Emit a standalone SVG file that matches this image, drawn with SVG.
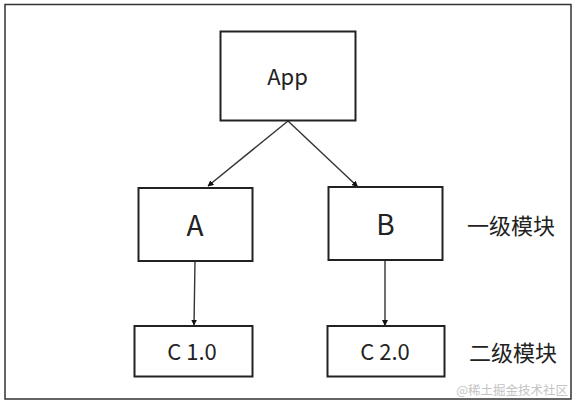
<svg xmlns="http://www.w3.org/2000/svg" width="576" height="404" viewBox="0 0 576 404">
<style>
.box{fill:#fff;stroke:#222;stroke-width:2}
.t{font-family:"Noto Sans CJK SC","Noto Sans",sans-serif;fill:#222;text-anchor:middle}
.edge{stroke:#333;stroke-width:1.4;fill:none;marker-end:url(#ah)}
</style>
<defs>
<marker id="ah" viewBox="0 0 10 10" refX="9" refY="5" markerWidth="6" markerHeight="6" markerUnits="userSpaceOnUse" orient="auto">
<path d="M0,0 L10,5 L0,10 z" fill="#111"/>
</marker>
</defs>
<rect x="0" y="0" width="576" height="404" fill="#fff"/>
<rect x="5" y="4.5" width="566" height="394.5" fill="none" stroke="#333" stroke-width="1.5"/>
<g id="connectors">
<line class="edge" x1="288" y1="121" x2="208" y2="186"/>
<line class="edge" x1="288" y1="121" x2="357.5" y2="186.5"/>
<line class="edge" x1="195" y1="261" x2="194" y2="325"/>
<line class="edge" x1="385" y1="260" x2="385" y2="325.5"/>
</g>
<g id="app">
<rect class="box" x="220.5" y="31.5" width="135" height="89"/>
<text class="t" x="287.5" y="84.5" font-size="22">App</text>
</g>
<g id="a">
<rect class="box" x="138.5" y="188" width="114" height="73"/>
<text class="t" x="195" y="235.5" font-size="28">A</text>
</g>
<g id="b">
<rect class="box" x="328.5" y="187" width="114" height="73"/>
<text class="t" x="385.5" y="234.5" font-size="28">B</text>
</g>
<g id="c1">
<rect class="box" x="134.5" y="326" width="118" height="50.5"/>
<text class="t" x="192" y="360" font-size="22">C 1.0</text>
</g>
<g id="c2">
<rect class="box" x="327.5" y="326" width="117" height="50.5"/>
<text class="t" x="385" y="360" font-size="22">C 2.0</text>
</g>
<g id="level1">
<text class="t" x="511" y="234" font-size="22" fill="#333">一级模块</text>
</g>
<g id="level2">
<text class="t" x="513" y="360.5" font-size="22" fill="#333">二级模块</text>
</g>
<text x="568" y="395" font-family="'Noto Sans CJK SC',sans-serif" font-size="12.5" fill="#c4c4c4" text-anchor="end">@稀土掘金技术社区</text>
</svg>
